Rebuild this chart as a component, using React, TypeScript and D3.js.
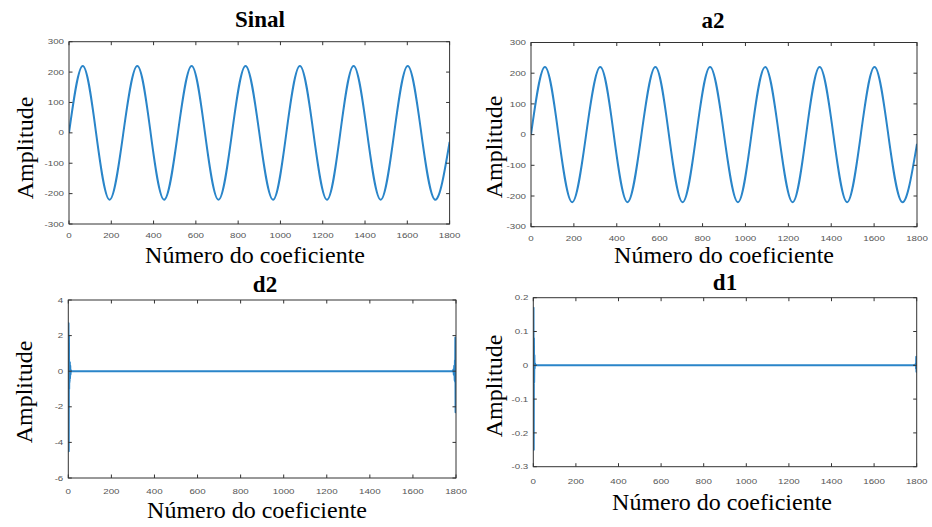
import React from 'react';
import * as d3 from 'd3';

// ---- data ----
const sinalIdx = [0, 65, 128, 192, 257, 323, 386, 450, 515, 580, 643, 707, 771, 835, 900, 965, 1028, 1092, 1156, 1220, 1283, 1346, 1410, 1474, 1538, 1602, 1666, 1731, 1800];
const sinalAmp = [0, 220, 0, -220, 0, 220, 0, -220, 0, 220, 0, -220, 0, 220, 0, -220, 0, 220, 0, -220, 0, 220, 0, -220, 0, 220, 0, -220, -30];

const a2Idx = [0, 65, 128, 192, 257, 323, 386, 450, 515, 580, 643, 707, 771, 835, 900, 965, 1028, 1092, 1156, 1220, 1283, 1346, 1410, 1474, 1538, 1602, 1666, 1731, 1800];
const a2Amp = [0, 220, 0, -220, 0, 220, 0, -220, 0, 220, 0, -220, 0, 220, 0, -220, 0, 220, 0, -220, 0, 220, 0, -220, 0, 220, 0, -220, -30];

const d2Idx = [0, 1, 2, 3, 4, 5, 6, 7, 8, 9, 10, 12, 14, 1786, 1788, 1790, 1792, 1794, 1795, 1796, 1797, 1798, 1799, 1800];
const d2Amp = [0.3, 2.7, -4.5, 2.0, -1.0, 0.5, -0.6, 0.5, -0.4, 0.3, -0.2, 0.05, 0, 0, 0.1, -0.2, 0.3, -0.5, 0.6, -0.6, 1.9, -2.3, 0.5, 0.2];

const d1Idx = [0, 1, 2, 3, 4, 5, 6, 8, 10, 1794, 1796, 1797, 1798, 1799, 1800];
const d1Amp = [0.05, 0.17, -0.25, 0.08, -0.05, 0.03, -0.01, 0.005, 0, 0, 0.005, -0.01, 0.025, -0.019, 0.01];

const xTicks = [0, 200, 400, 600, 800, 1000, 1200, 1400, 1600, 1800];
const topYTicks = [-300, -200, -100, 0, 100, 200, 300];
const d2YTicks = [-6, -4, -2, 0, 2, 4];
const d1YTicks = [-0.3, -0.2, -0.1, 0, 0.1, 0.2];

const titles = ['Sinal', 'a2', 'd2', 'd1'];
const xLabel = 'Número do coeficiente';
const yLabel = 'Amplitude';

// ---- layout ----
const W = 932;
const H = 527;
const LINE = '#2a85c9';
const AX = '#333';
const TICKTXT = '#555';
const SERIF = '"Times New Roman", "Liberation Serif", Times, serif';
const SANS = '"Liberation Sans", Arial, sans-serif';

type Panel = {
  title: string;
  idx: number[];
  amp: number[];
  yTicks: number[];
  box: [number, number, number, number];
  titlePos: [number, number];
  xlabPos: [number, number];
  ylabPos: [number, number];
  xtOff: number;
  smooth: boolean;
};

const panels: Panel[] = [
  { title: titles[0], idx: sinalIdx, amp: sinalAmp, yTicks: topYTicks, box: [69, 41.7, 449.6, 224], titlePos: [260, 27], xlabPos: [255, 263], ylabPos: [33, 148], xtOff: 11, smooth: true },
  { title: titles[1], idx: a2Idx, amp: a2Amp, yTicks: topYTicks, box: [531, 42.5, 917, 226.7], titlePos: [713, 28], xlabPos: [724, 263], ylabPos: [501.5, 147], xtOff: 11.5, smooth: true },
  { title: titles[2], idx: d2Idx, amp: d2Amp, yTicks: d2YTicks, box: [68.3, 300, 456, 478], titlePos: [265, 292], xlabPos: [257, 518], ylabPos: [32, 392], xtOff: 13.5, smooth: false },
  { title: titles[3], idx: d1Idx, amp: d1Amp, yTicks: d1YTicks, box: [533.3, 297.7, 916.7, 466.7], titlePos: [725, 290], xlabPos: [722, 510], ylabPos: [501.5, 386], xtOff: 15, smooth: false },
];

const fmt = (v: number) => String(+v.toFixed(2));

function PanelView({ p, i }: { p: Panel; i: number }) {
  const [x0, y0, x1, y1] = p.box;
  const xs = d3.scaleLinear().domain([0, 1800]).range([x0, x1]);
  const yd = d3.extent(p.yTicks) as [number, number];
  const ys = d3.scaleLinear().domain(yd).range([y1, y0]);
  const pts = p.idx.map((v, k) => [v, p.amp[k]] as [number, number]);
  const line = d3
    .line<[number, number]>()
    .x((d) => xs(d[0]))
    .y((d) => ys(d[1]))
    .curve(p.smooth ? d3.curveNatural : d3.curveLinear);
  const tl = 3.5;
  const clipId = `clip${i}`;
  return (
    <g>
      <defs>
        <clipPath id={clipId}>
          <rect x={x0} y={y0 - 1} width={x1 - x0} height={y1 - y0 + 2} />
        </clipPath>
      </defs>
      <path d={line(pts) || ''} fill="none" stroke={LINE} strokeWidth={2} strokeLinejoin="round" clipPath={`url(#${clipId})`} />
      <rect x={x0} y={y0} width={x1 - x0} height={y1 - y0} fill="none" stroke={AX} strokeWidth={1} />
      {xTicks.map((t) => (
        <g key={'x' + t}>
          <line x1={xs(t)} x2={xs(t)} y1={y1} y2={y1 - tl} stroke={AX} />
          <line x1={xs(t)} x2={xs(t)} y1={y0} y2={y0 + tl} stroke={AX} />
          <text
            transform={`translate(${xs(t)},${y1 + p.xtOff}) scale(1.3,1)`}
            dy="0.35em"
            textAnchor="middle"
            fontFamily={SANS}
            fontSize={7.5}
            fill={TICKTXT}
          >
            {fmt(t)}
          </text>
        </g>
      ))}
      {p.yTicks.map((t) => (
        <g key={'y' + t}>
          <line x1={x0} x2={x0 + tl} y1={ys(t)} y2={ys(t)} stroke={AX} />
          <line x1={x1} x2={x1 - tl} y1={ys(t)} y2={ys(t)} stroke={AX} />
          <text
            transform={`translate(${x0 - 5},${ys(t)}) scale(1.3,1)`}
            dy="0.35em"
            textAnchor="end"
            fontFamily={SANS}
            fontSize={7.5}
            fill={TICKTXT}
          >
            {fmt(t)}
          </text>
        </g>
      ))}
      <text x={p.titlePos[0]} y={p.titlePos[1]} textAnchor="middle" fontFamily={SERIF} fontWeight="bold" fontSize={23} fill="#000">
        {p.title}
      </text>
      <text x={p.xlabPos[0]} y={p.xlabPos[1]} textAnchor="middle" fontFamily={SERIF} fontSize={24} fill="#000">
        {xLabel}
      </text>
      <text
        transform={`translate(${p.ylabPos[0]},${p.ylabPos[1]}) rotate(-90)`}
        textAnchor="middle"
        fontFamily={SERIF}
        fontSize={24}
        fill="#000"
      >
        {yLabel}
      </text>
    </g>
  );
}

export default function App() {
  return (
    <svg
      width={W}
      height={H}
      viewBox={`0 0 ${W} ${H}`}
      style={{ position: 'absolute', left: 0, top: 0, display: 'block', background: '#fff' }}
    >
      <rect x={0} y={0} width={W} height={H} fill="#fff" />
      {panels.map((p, i) => (
        <PanelView key={p.title} p={p} i={i} />
      ))}
    </svg>
  );
}
